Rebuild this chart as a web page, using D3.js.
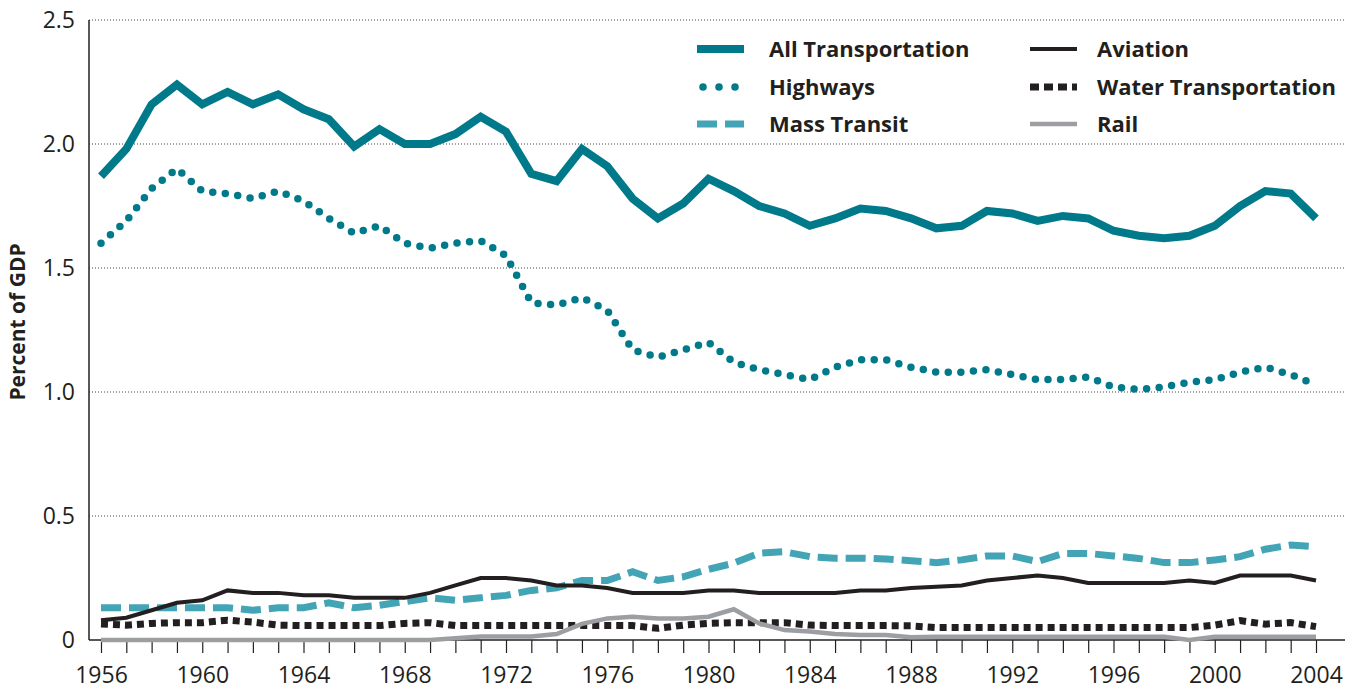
<!DOCTYPE html>
<html>
<head>
<meta charset="utf-8">
<script src="https://cdn.jsdelivr.net/npm/d3@7"></script>
<style>
  body { margin: 0; background: #fff; }
  text { font-family: "Open Sans", "Noto Sans", sans-serif; fill: #231f20; }
</style>
</head>
<body>
<div id="chart"></div>
<script>
// years 1956..2004, share of GDP (%)
const years = d3.range(1956, 2005);
const allTransportation = [1.87,1.98,2.16,2.24,2.16,2.21,2.16,2.20,2.14,2.10,
  1.99,2.06,2.00,2.00,2.04,2.11,2.05,1.88,1.85,1.98,
  1.91,1.78,1.70,1.76,1.86,1.81,1.75,1.72,1.67,1.70,
  1.74,1.73,1.70,1.66,1.67,1.73,1.72,1.69,1.71,1.70,
  1.65,1.63,1.62,1.63,1.67,1.75,1.81,1.80,1.70];
const highways = [1.60,1.69,1.82,1.90,1.81,1.80,1.78,1.81,1.77,1.70,
  1.64,1.67,1.60,1.58,1.60,1.61,1.55,1.36,1.35,1.38,
  1.33,1.17,1.14,1.17,1.20,1.12,1.09,1.07,1.05,1.10,
  1.13,1.13,1.10,1.08,1.08,1.09,1.07,1.05,1.05,1.06,
  1.02,1.01,1.02,1.04,1.05,1.08,1.10,1.07,1.03];
const massTransit = [0.13,0.13,0.13,0.13,0.13,0.13,0.12,0.13,0.13,0.15,
  0.13,0.14,0.155,0.17,0.16,0.17,0.18,0.20,0.21,0.24,
  0.24,0.275,0.24,0.255,0.285,0.31,0.35,0.356,0.336,0.33,
  0.33,0.327,0.32,0.312,0.323,0.339,0.339,0.316,0.349,0.349,
  0.339,0.329,0.312,0.312,0.323,0.336,0.366,0.383,0.376];
const aviation = [0.08,0.09,0.12,0.15,0.16,0.20,0.19,0.19,0.18,0.18,
  0.17,0.17,0.17,0.19,0.22,0.25,0.25,0.24,0.22,0.22,
  0.21,0.19,0.19,0.19,0.20,0.20,0.19,0.19,0.19,0.19,
  0.20,0.20,0.21,0.215,0.22,0.24,0.25,0.26,0.25,0.23,
  0.23,0.23,0.23,0.24,0.23,0.26,0.26,0.26,0.24];
const water = [0.065,0.06,0.067,0.07,0.07,0.08,0.072,0.06,0.058,0.058,
  0.058,0.058,0.067,0.07,0.058,0.058,0.058,0.058,0.058,0.058,
  0.058,0.058,0.047,0.06,0.067,0.07,0.07,0.07,0.06,0.058,
  0.058,0.058,0.057,0.05,0.05,0.05,0.05,0.05,0.05,0.05,
  0.05,0.05,0.05,0.05,0.06,0.078,0.064,0.07,0.054];
const rail = [0,0,0,0,0,0,0,0,0,0,
  0,0,0,0,0.007,0.014,0.014,0.014,0.024,0.065,
  0.087,0.094,0.087,0.087,0.094,0.124,0.067,0.04,0.034,0.024,
  0.02,0.02,0.011,0.013,0.013,0.013,0.013,0.013,0.013,0.013,
  0.013,0.013,0.013,0,0.013,0.013,0.013,0.013,0.013];

const yTicks = [0, 0.5, 1.0, 1.5, 2.0, 2.5];
const yTickLabels = ["0", "0.5", "1.0", "1.5", "2.0", "2.5"];
const xLabelYears = d3.range(1956, 2005, 4);

const W = 1352, H = 691;
const svg = d3.select('#chart').append('svg').attr('width', W).attr('height', H);

const x = d3.scaleLinear().domain([1956, 2004]).range([101, 1316]);
const y = d3.scaleLinear().domain([0, 2.5]).range([640, 20]);
const left = 89, right = 1345;

// dotted gridlines
svg.append('g').selectAll('line').data(yTicks.filter(d => d > 0)).enter()
  .append('line')
  .attr('x1', left).attr('x2', right)
  .attr('y1', d => y(d)).attr('y2', d => y(d))
  .attr('stroke', '#444').attr('stroke-width', 1)
  .attr('stroke-dasharray', '1 2');

// y axis
svg.append('line').attr('x1', left).attr('x2', left)
  .attr('y1', y(2.5)).attr('y2', y(0))
  .attr('stroke', '#231f20').attr('stroke-width', 1.5);
svg.append('g').selectAll('text').data(yTicks).enter()
  .append('text')
  .attr('x', 75).attr('y', d => y(d) + 8)
  .attr('text-anchor', 'end')
  .attr('font-size', 23)
  .text((d, i) => yTickLabels[i]);
svg.append('text')
  .attr('transform', 'translate(25,' + 322 + ') rotate(-90)')
  .attr('text-anchor', 'middle')
  .attr('font-size', 21).attr('font-weight', 700)
  .text('Percent of GDP');

// x axis
const xAxis = d3.axisBottom(x)
  .tickValues(years)
  .tickSize(13)
  .tickFormat(d => xLabelYears.includes(d) ? String(d) : '');
const gx = svg.append('g').attr('transform', 'translate(0,' + y(0) + ')').call(xAxis);
gx.select('.domain').remove();
gx.selectAll('.tick line').attr('stroke', '#231f20').attr('stroke-width', 1.2);
gx.selectAll('.tick text').attr('font-size', 23).attr('dy', 0).attr('y', 43)
  .attr('font-family', '"Open Sans", sans-serif').attr('fill', '#231f20');
svg.append('line').attr('x1', left).attr('x2', right)
  .attr('y1', y(0)).attr('y2', y(0))
  .attr('stroke', '#231f20').attr('stroke-width', 1.5);

// series
const series = [
  { name: 'Mass Transit', values: massTransit, color: '#43a4b6', width: 7, dash: '20 8', cap: 'butt' },
  { name: 'Water Transportation', values: water, color: '#231f20', width: 7, dash: '7 5', cap: 'butt' },
  { name: 'Rail', values: rail, color: '#9c9ea1', width: 4.5, dash: null, cap: 'butt' },
  { name: 'Aviation', values: aviation, color: '#231f20', width: 4, dash: null, cap: 'butt' },
  { name: 'Highways', values: highways, color: '#007a8a', width: 7.5, dash: '0 12.6', cap: 'round' },
  { name: 'All Transportation', values: allTransportation, color: '#007a8a', width: 8, dash: null, cap: 'butt' }
];

const line = d3.line().x((d, i) => x(years[i])).y(d => y(d));
series.forEach(s => {
  svg.append('path')
    .attr('d', line(s.values))
    .attr('fill', 'none')
    .attr('stroke', s.color)
    .attr('stroke-width', s.width)
    .attr('stroke-linejoin', 'miter')
    .attr('stroke-linecap', s.cap)
    .attr('stroke-dasharray', s.dash);
});

// legend
const byName = {};
series.forEach(s => byName[s.name] = s);
const legend = [
  ['All Transportation', 697, 49, 769], ['Highways', 697, 87, 769], ['Mass Transit', 697, 124, 769],
  ['Aviation', 1030, 49, 1097], ['Water Transportation', 1030, 87, 1097], ['Rail', 1030, 124, 1097]
];
legend.forEach(([name, lx, ly, tx]) => {
  const s = byName[name];
  const x0 = lx + (s.cap === 'round' ? 6 : 0);
  svg.append('line')
    .attr('x1', x0).attr('x2', lx + 47)
    .attr('y1', ly).attr('y2', ly)
    .attr('stroke', s.color)
    .attr('stroke-width', s.width)
    .attr('stroke-linecap', s.cap)
    .attr('stroke-dasharray', name === 'Mass Transit' ? '20 8' : name === 'Highways' ? '0 16' : name === 'Water Transportation' ? '9 5' : null);
  svg.append('text')
    .attr('x', tx).attr('y', ly + 8)
    .attr('font-size', 22).attr('font-weight', 700)
    .text(name);
});
</script>
</body>
</html>
